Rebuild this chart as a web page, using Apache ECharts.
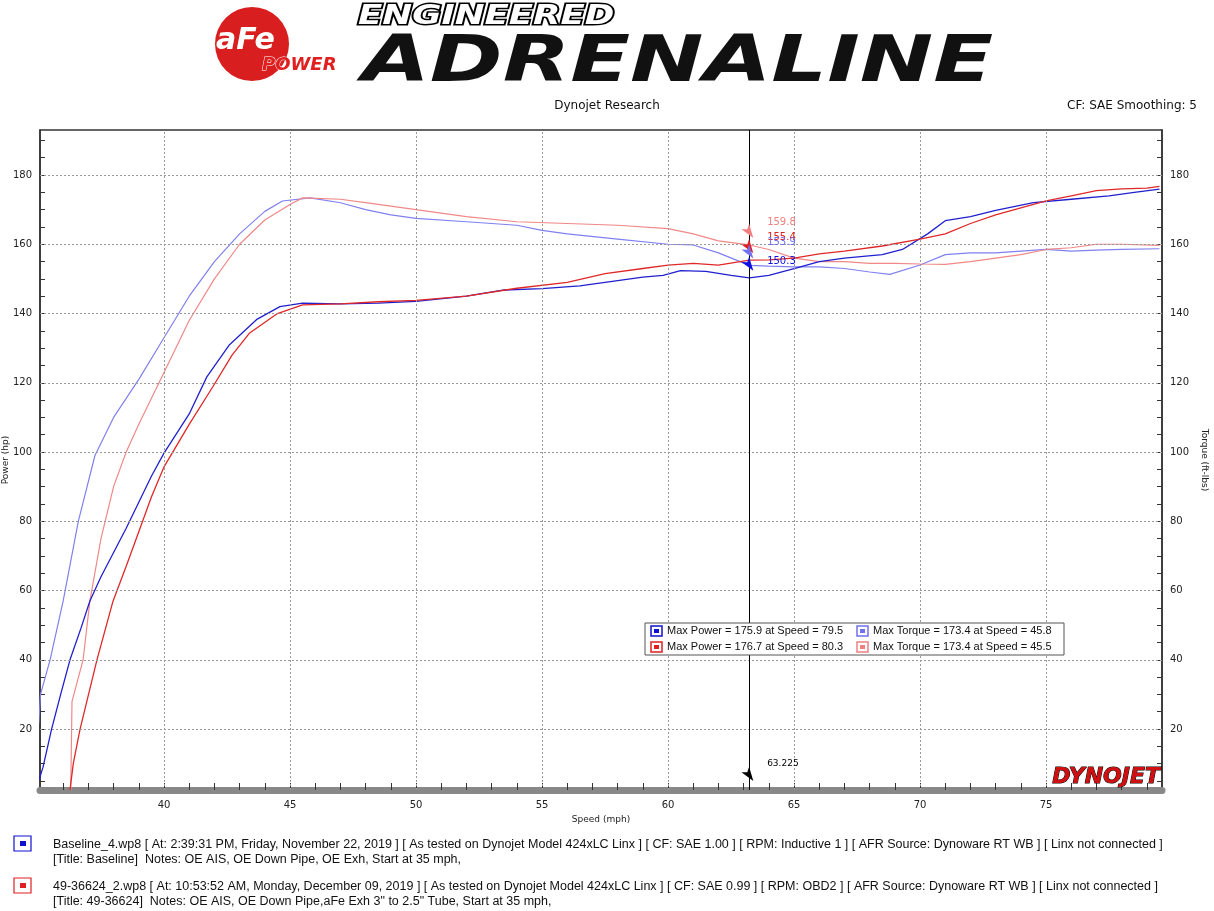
<!DOCTYPE html>
<html><head><meta charset="utf-8">
<script src="https://cdn.jsdelivr.net/npm/echarts@6/dist/echarts.min.js"></script>
<style>html,body{margin:0;padding:0;background:#fff}#c{width:1214px;height:911px}</style>
</head><body><div id="c"></div>
<script>
const basePower = [[35.04,5.3],[35.2,9],[35.54,20],[35.9,30],[36.27,40],[36.7,49],[37.06,57],[37.5,64],[38,71],[38.5,78],[39,85.5],[39.5,93],[40,99.7],[41,111],[41.7,121.7],[42.6,131],[43.7,138.4],[44.6,142],[45.5,143],[47,142.8],[48.5,143],[50,143.5],[52,145],[53.5,146.8],[55,147.2],[56.5,148],[57.5,149],[59,150.5],[59.8,151],[60.5,152.4],[61.5,152.2],[62.5,151],[63.225,150.3],[64,151],[65,153],[66,155],[67,156],[68.5,157],[69.3,158.5],[70.3,163],[71,166.8],[72,168],[73,169.8],[74.5,172],[76,173],[77.5,174],[78.5,175],[79.5,175.9]];
const testPower = [[36.27,2.4],[36.4,10],[36.67,20],[37.34,40],[37.98,57],[38.5,67],[39,77],[39.5,87],[40,95.7],[41,108],[41.95,119],[42.7,128],[43.4,134.4],[44.5,140],[45.5,142.5],[47,142.8],[48.5,143.4],[50,143.8],[52,145],[54,147.3],[56,149],[57.5,151.5],[59,153],[60,154],[61,154.5],[62,154],[63.225,155.4],[64,155.5],[65,156],[66,157.2],[67,158],[68.5,159.5],[70,161.5],[71,163],[72,166],[73,168.5],[74,170.5],[75,172.5],[76,174],[77,175.5],[78,176],[79,176.2],[79.5,176.7]];
const baseTorque = [[35.03,21.7],[35.1,30],[35.48,40],[36.0,57],[36.6,80],[37.26,99],[38,110],[39,121],[40,133],[41,145],[42,155],[43,163],[44,169.5],[44.7,172.5],[45.8,173.4],[47,172],[48,170],[49,168.5],[50,167.5],[52,166.5],[54,165.5],[55,164],[56,163],[58,161.5],[60,160],[61,159.8],[62,157.5],[63.225,153.9],[64,153.7],[65,153.5],[66,153.5],[67,153],[68,152],[68.8,151.3],[70,154],[71,157],[72,157.5],[73,157.5],[74,158],[75,158.5],[76,158],[77,158.3],[78,158.5],[79.5,158.7]];
const testTorque = [[36.3,2.4],[36.35,28],[36.79,40],[37.06,57],[37.5,75],[38,90],[38.5,100],[39,108],[40,123],[41,138],[42,150],[43,160],[44,167],[45,171.5],[45.5,173.4],[47,173],[48,172],[50,170],[52,168],[54,166.5],[56,166],[58,165.5],[60,164.5],[61,163],[62,161],[63.225,159.8],[64,158.5],[65,156],[66,155],[67,155],[68,154.5],[69,154.5],[70,154.3],[71,154.2],[72,155],[73,156],[74,157],[75,158.5],[76,159],[77,160],[78,160],[79.5,159.7]];
const xLabels = [40,45,50,55,60,65,70,75];
const yLabels = [20,40,60,80,100,120,140,160,180];
const cursorX = 63.225;
const cursorVals = [['159.8',159.8,'#f08080'],['155.4',155.4,'#e02020'],['153.9',153.9,'#7070f0'],['150.3',150.3,'#1010e0']];

const xMinor=[]; for(let i=36;i<=79;i++) xMinor.push(i);
const yMinor=[]; for(let i=5;i<=190;i+=5) yMinor.push(i);
const F='DejaVu Sans';
const grid = {left:40,right:52,top:130,bottom:121,outerBoundsMode:'none',containLabel:false};
const yAxisCommon = (pos)=>({type:'value',min:2.4,max:193,position:pos,
  axisLine:{show:true,lineStyle:{color:'#333',width:1.5}},
  axisTick:{show:true,inside:true,length:5,customValues:yMinor,lineStyle:{color:'#333'}},
  axisLabel:{customValues:yLabels,fontFamily:F,fontSize:10,color:'#222'},
  splitLine:{show:false},nameLocation:'middle',nameGap:26,nameTextStyle:{fontFamily:F,fontSize:9,color:'#222'}});
const ln=(name,data,color,w,y)=>({name,type:'line',data,yAxisIndex:y,symbol:'none',smooth:false,lineStyle:{color,width:w},itemStyle:{color},z:3,animation:false});
const gridLines = [...xLabels.map(v=>({xAxis:v})),...yLabels.map(v=>({yAxis:v}))];
const series=[
  ln('bt',baseTorque,'#8080f0',1.2,1),
  ln('tt',testTorque,'#f08888',1.2,1),
  ln('bp',basePower,'#2020d0',1.3,0),
  ln('tp',testPower,'#e02828',1.3,0),
  {type:'line',data:[],yAxisIndex:0,silent:true,
   markLine:{symbol:'none',silent:true,animation:false,label:{show:false},lineStyle:{color:'#999',type:[2,2],width:1},data:gridLines}},
  {type:'line',data:[],yAxisIndex:0,silent:true,z:5,
   markLine:{symbol:'none',silent:true,animation:false,label:{show:false},lineStyle:{color:'#000',type:'solid',width:1},data:[{xAxis:cursorX}]},
   markPoint:{animation:false,data:[
     ...cursorVals.map(c=>({coord:[cursorX,c[1]],symbol:'arrow',symbolSize:[7,14],symbolRotate:215,symbolOffset:[4,-7],itemStyle:{color:c[2]},
       label:{show:true,formatter:c[0],position:'right',distance:6,offset:[4,-10+(c[0]==='150.3'?6:0)],color:c[2],fontFamily:F,fontSize:10}})),
     {coord:[cursorX,3],symbol:'arrow',symbolSize:[7,14],symbolRotate:215,symbolOffset:[4,-7],itemStyle:{color:'#000'},
       label:{show:true,formatter:'63.225',position:'right',distance:6,offset:[4,-12],color:'#000',fontFamily:F,fontSize:9}}]}}
];
const chart=echarts.init(document.getElementById('c'));
const leg=(x,y,c,t)=>[{type:'rect',z:20,shape:{x:x,y:y,width:11,height:10},style:{fill:'#fff',stroke:c,lineWidth:1.5}},
  {type:'rect',z:21,shape:{x:x+3,y:y+3,width:5,height:4},style:{fill:c}},
  {type:'text',z:21,x:x+16,y:y+5,style:{text:t,font:'11px "Liberation Sans"',fill:'#111',verticalAlign:'middle'}}];
const LS='"Liberation Sans"';
chart.setOption({animation:false,backgroundColor:'#fff',grid,
  xAxis:{type:'value',min:35.08,max:79.6,name:'Speed (mph)',nameLocation:'middle',nameGap:22,nameTextStyle:{fontFamily:F,fontSize:9,color:'#222'},
    axisLine:{show:true,lineStyle:{color:'#888',width:7}},
    axisTick:{show:true,inside:true,length:7,customValues:xMinor,lineStyle:{color:'#333'}},
    axisLabel:{customValues:xLabels,fontFamily:F,fontSize:10,color:'#222',margin:10},splitLine:{show:false}},
  yAxis:[yAxisCommon('left'),Object.assign(yAxisCommon('right'),{name:'Torque (ft-lbs)',nameRotate:-90})],
  series,
  graphic:[
    {type:'rect',shape:{x:40,y:130,width:1122,height:660},style:{fill:'none',stroke:'#333',lineWidth:1.5},z:-1},
    {type:'text',x:6,y:460,rotation:Math.PI/2,style:{text:'Power (hp)',font:'9px '+F,fill:'#222',align:'center',verticalAlign:'middle'}},
    {type:'circle',shape:{cx:252,cy:44,r:37},style:{fill:'#d81e1e'}},
    {type:'text',x:216,y:26,style:{text:'aFe',font:'italic bold 30px '+F,fill:'#fff'}},
    {type:'text',x:262,y:56,style:{text:'POWER',font:'italic bold 18px '+F,fill:'#e02020',stroke:'#fff',lineWidth:1}},
    {type:'text',x:358,y:4,scaleX:1.37,originX:0,originY:0,style:{text:'ENGINEERED',font:'italic bold 26px '+F,fill:'#fff',stroke:'#000',lineWidth:3}},
    {type:'text',x:362,y:32,scaleX:1.37,originX:0,originY:0,style:{text:'ADRENALINE',font:'italic bold 64px '+F,fill:'#111'}},
    {type:'text',x:607,y:100,style:{text:'Dynojet Research',font:'12px '+F,fill:'#111',align:'center'}},
    {type:'text',x:1197,y:100,style:{text:'CF: SAE Smoothing: 5',font:'12px '+F,fill:'#111',align:'right'}},
    {type:'rect',shape:{x:645,y:623,width:419,height:32},style:{fill:'#fff',stroke:'#555',lineWidth:1},z:10},
    ...leg(651,626,'#1010d0','Max Power = 175.9 at Speed = 79.5'),
    ...leg(857,626,'#7070f0','Max Torque = 173.4 at Speed = 45.8'),
    ...leg(651,642,'#e02020','Max Power = 176.7 at Speed = 80.3'),
    ...leg(857,642,'#f08080','Max Torque = 173.4 at Speed = 45.5'),
    {type:'text',x:1160,y:766,style:{text:'DYNOJET',font:'italic bold 22px '+F,fill:'#d01010',stroke:'#000',lineWidth:1,align:'right'},z:10},
    {type:'rect',shape:{x:14,y:836,width:17,height:15},style:{fill:'#fff',stroke:'#1010d0',lineWidth:1.2}},
    {type:'rect',shape:{x:20,y:841,width:6,height:5},style:{fill:'#1010d0'}},
    {type:'text',x:53,y:837,style:{text:'Baseline_4.wp8 [ At: 2:39:31 PM, Friday, November 22, 2019 ] [ As tested on Dynojet Model 424xLC Linx ] [ CF: SAE 1.00 ] [ RPM: Inductive 1 ] [ AFR Source: Dynoware RT WB ] [ Linx not connected ]\n[Title: Baseline]  Notes: OE AIS, OE Down Pipe, OE Exh, Start at 35 mph,',font:'12.5px '+LS,fill:'#111',lineHeight:15}},
    {type:'rect',shape:{x:14,y:878,width:17,height:15},style:{fill:'#fff',stroke:'#e02020',lineWidth:1.2}},
    {type:'rect',shape:{x:20,y:883,width:6,height:5},style:{fill:'#e02020'}},
    {type:'text',x:53,y:879,style:{text:'49-36624_2.wp8 [ At: 10:53:52 AM, Monday, December 09, 2019 ] [ As tested on Dynojet Model 424xLC Linx ] [ CF: SAE 0.99 ] [ RPM: OBD2 ] [ AFR Source: Dynoware RT WB ] [ Linx not connected ]\n[Title: 49-36624]  Notes: OE AIS, OE Down Pipe,aFe Exh 3" to 2.5" Tube, Start at 35 mph,',font:'12.5px '+LS,fill:'#111',lineHeight:15}}
  ]});
</script></body></html>
